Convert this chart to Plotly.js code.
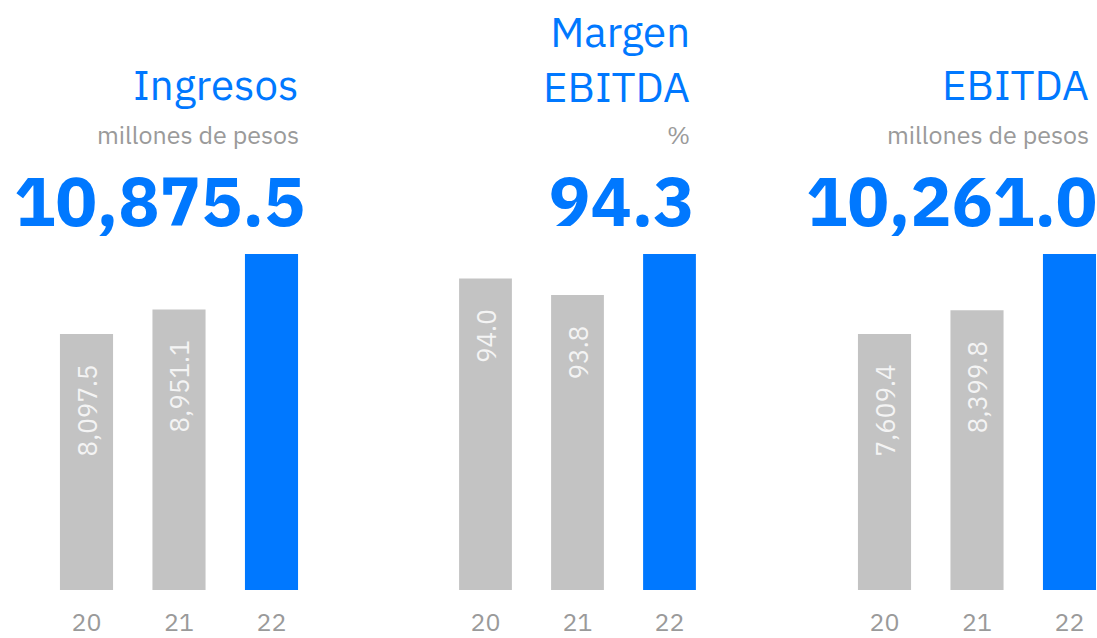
<!DOCTYPE html>
<html><head><meta charset="utf-8">
<script src="https://cdn.plot.ly/plotly-3.0.1.min.js"></script>
<style>html,body{margin:0;padding:0;background:#fff}#c{width:1097px;height:638px}</style>
</head><body><div id="c"></div>
<script>
const years = ['20', '21', '22'];
const ingresos = [8097.5, 8951.1, 10875.5];
const margen = [94.0, 93.8, 94.3];
const ebitda = [7609.4, 8399.8, 10261.0];
const titles = ['Ingresos', 'Margen<br>EBITDA', 'EBITDA'];
const units = ['millones de pesos', '%', 'millones de pesos'];
const headline = ['10,875.5', '94.3', '10,261.0'];
const barLabels = [['8,097.5', '8,951.1'], ['94.0', '93.8'], ['7,609.4', '8,399.8']];

const W = 1097, H = 638;
const BLUE = '#0078ff', GREY = '#c3c3c3', TXT = '#9a9a9a';
const FONT = 'IBM Plex Sans, Noto Sans, sans-serif';
const series = [ingresos, margen, ebitda];
const baseVals = [-800, 90.2, -880];
const panels = [
  {x0: 40.25, x1: 317.75, unit: 92.5, right: 301, numRight: 307},
  {x0: 439.5, x1: 715.5, unit: 92, right: 692, numRight: 697},
  {x0: 838.25, x1: 1097, unit: 92.5, right: 1091, numRight: 1099}
];
const yBot = 590, yTop = 254;
const py = p => 1 - p / H;

const data = [], annotations = [];
const layout = {
  width: W, height: H, margin: {l: 0, r: 0, t: 0, b: 0},
  paper_bgcolor: '#fff', plot_bgcolor: '#fff', showlegend: false,
  bargap: 0.426, font: {family: FONT},
  annotations: annotations
};
series.forEach((vals, i) => {
  const p = panels[i];
  const xa = 'xaxis' + (i ? i + 1 : ''), ya = 'yaxis' + (i ? i + 1 : '');
  const b = baseVals[i];
  const mx = Math.max(...vals);
  data.push({
    type: 'bar', x: years, y: vals.map(v => v - b), base: b,
    xaxis: 'x' + (i ? i + 1 : ''), yaxis: 'y' + (i ? i + 1 : ''),
    marker: {color: vals.map((v, k) => k === vals.length - 1 ? BLUE : GREY)},
    hoverinfo: 'skip'
  });
  layout[xa] = {
    domain: [p.x0 / W, p.x1 / W], type: 'category',
    range: [-0.5, -0.5 + (p.x1 - p.x0) / p.unit],
    showgrid: false, zeroline: false, showline: false, ticks: '',
    tickfont: {size: 25, color: TXT, family: FONT}, ticklabelstandoff: 15,
    anchor: 'y' + (i ? i + 1 : ''), fixedrange: true
  };
  layout[ya] = {
    domain: [py(yBot), py(yTop)], range: [b, mx],
    visible: false, fixedrange: true, anchor: 'x' + (i ? i + 1 : '')
  };
  barLabels[i].forEach((t, k) => {
    annotations.push({
      xref: 'x' + (i ? i + 1 : ''), yref: 'y' + (i ? i + 1 : ''),
      x: k, y: vals[k], text: t, showarrow: false, textangle: -90,
      xanchor: 'center', yanchor: 'top', yshift: -29,
      font: {size: 26, color: '#f4f4f4', family: FONT}
    });
  });
  annotations.push({
    xref: 'paper', yref: 'paper', x: p.right / W, y: py(i === 1 ? 59 : 85),
    xanchor: 'right', yanchor: 'middle', align: 'right', showarrow: false,
    text: titles[i], font: {size: 42, color: BLUE, family: FONT}
  });
  annotations.push({
    xref: 'paper', yref: 'paper', x: p.right / W, y: py(134),
    xanchor: 'right', yanchor: 'middle', align: 'right', showarrow: false,
    text: units[i], font: {size: 25, color: TXT, family: FONT}
  });
  annotations.push({
    xref: 'paper', yref: 'paper', x: p.numRight / W, y: py(200),
    xanchor: 'right', yanchor: 'middle', align: 'right', showarrow: false,
    text: '<b>' + headline[i] + '</b>', font: {size: 69, color: BLUE, family: FONT}
  });
});
Plotly.newPlot('c', data, layout, {staticPlot: true, displayModeBar: false});
</script></body></html>
